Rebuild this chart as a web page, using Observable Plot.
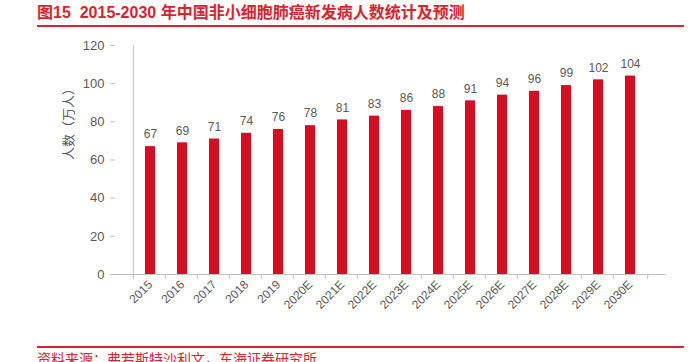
<!DOCTYPE html>
<html><head><meta charset="utf-8">
<script src="https://cdn.jsdelivr.net/npm/d3@7"></script>
<script src="https://cdn.jsdelivr.net/npm/@observablehq/plot@0.6"></script>
<style>
body{margin:0;background:#fff;width:688px;height:362px;overflow:hidden;font-family:"Liberation Sans","Noto Sans CJK SC",sans-serif;}
#title{position:absolute;left:37px;top:3px;width:647px;height:22px;border-bottom:2px solid #d9232e;color:#d9232e;font-weight:bold;font-size:16px;line-height:20px;white-space:nowrap;}
#chart{position:absolute;left:0;top:30px;}
#foot{position:absolute;left:37px;top:346px;width:647px;border-top:2px solid #d9232e;color:#d9232e;font-size:14px;line-height:18px;padding-top:2px;white-space:nowrap;}
</style></head>
<body>
<div id="title">图15&nbsp;&nbsp;2015-2030 年中国非小细胞肺癌新发病人数统计及预测</div>
<div id="chart"></div>
<div id="foot">资料来源：弗若斯特沙利文，东海证券研究所</div>
<script>
const years = ["2015","2016","2017","2018","2019","2020E","2021E","2022E","2023E","2024E","2025E","2026E","2027E","2028E","2029E","2030E"];
const values = [67,69,71,74,76,78,81,83,86,88,91,94,96,99,102,104];
const yTicks = [0,20,40,60,80,100,120];
const yLabel = "人数（万人）";

const data = years.map((y,i)=>({year:y, value:values[i]}));
const W = 688, H = 317, mL = 115, mR = 23;
const bw = (W - mL - mR) / years.length;
const grey = "#bfbfbf", txt = "#595959";

const chart = Plot.plot({
  width: W, height: H,
  marginTop: 15, marginBottom: 73, marginLeft: mL, marginRight: mR,
  style: {fontFamily: '"Liberation Sans","Noto Sans CJK SC",sans-serif', fontSize: "12px", color: txt, background: "#fff"},
  x: {domain: years, padding: 0.68, label: null},
  y: {domain: [0,120], label: null},
  marks: [
    Plot.barY(data, {x: "year", y: "value", fill: "#d70c26"}),
    Plot.text(data, {x: "year", y: "value", text: d => String(d.value), dy: -12, fill: txt, fontSize: 12}),
    Plot.axisY({ticks: yTicks, tickSize: 5, tickPadding: 6, stroke: grey, fill: txt, fontSize: 13}),
    Plot.ruleX([0], {x: () => years[0], dx: -bw/2, stroke: grey, y1: 0, y2: 120}),
    Plot.ruleY([0], {stroke: grey}),
    Plot.ruleX(years, {x: d => d, dx: -bw/2, y1: 0, y2: 0, insetBottom: -5, stroke: grey}),
    Plot.ruleX([years[years.length-1]], {x: d => d, dx: bw/2, y1: 0, y2: 0, insetBottom: -5, stroke: grey}),
    Plot.axisX({tickSize: 0, tickRotate: -45, tickPadding: 8, fill: txt, fontSize: 12}),
    Plot.text([yLabel], {frameAnchor: "left", dx: -47, rotate: -90, text: d => d, fill: txt, fontSize: 13, fontFamily: '"Noto Sans CJK SC",sans-serif'})
  ]
});
document.getElementById("chart").appendChild(chart);
</script>
</body></html>
